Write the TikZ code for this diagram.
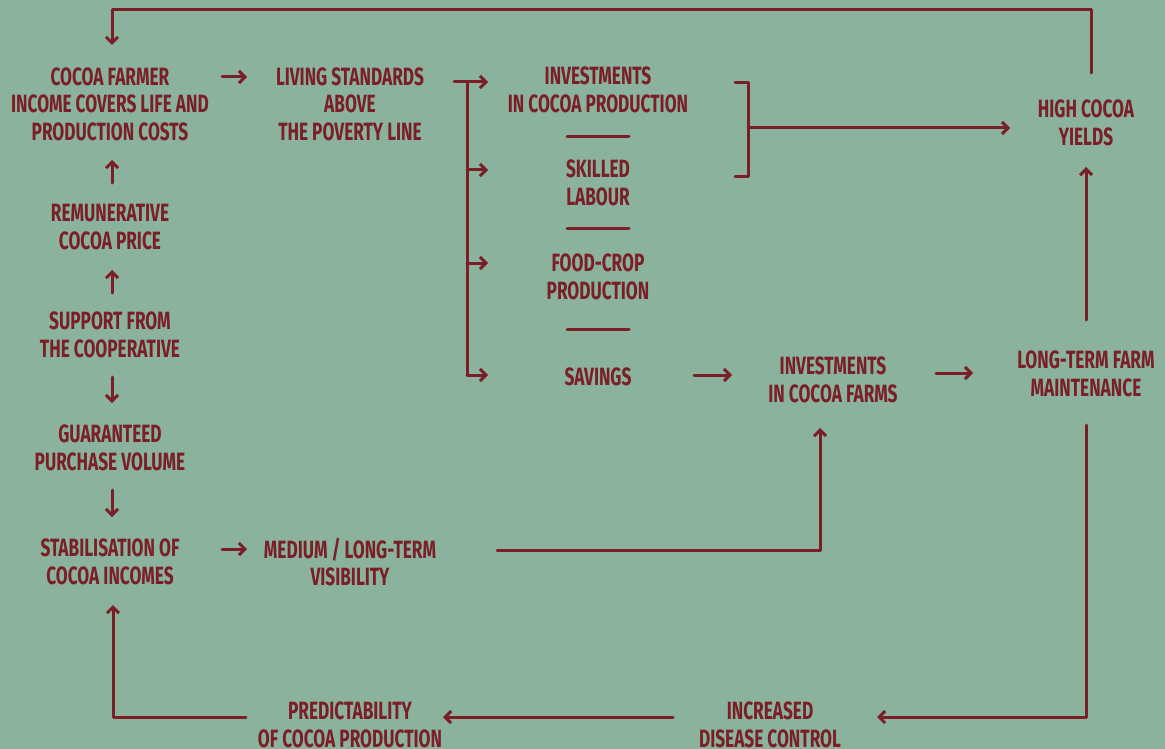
\documentclass[tikz,border=0pt]{standalone}
\usepackage{fontspec}
\newfontfamily\lab{Fira Sans}[FakeStretch=0.69]
\usetikzlibrary{arrows.meta}
\definecolor{bg}{RGB}{139,178,156}
\definecolor{wine}{RGB}{122,30,40}
\tikzset{
  lab/.style={text=wine, font=\lab\bfseries\fontsize{25}{27.5}\selectfont, align=center, inner sep=0pt},
  link/.style={draw=wine, line width=3pt, line cap=round, line join=round},
  arr/.style={link, -{Straight Barb[length=6pt,width=12pt]}},
}
\begin{document}
\begin{tikzpicture}[x=1pt,y=-1pt]
\fill[bg] (0,0) rectangle (1165,749);
\useasboundingbox (0,0) rectangle (1165,749);
% nodes
\node[lab] (farmer) at (110,104) {COCOA FARMER\\INCOME COVERS LIFE AND\\PRODUCTION COSTS};
\node[lab] (living) at (350,104) {LIVING STANDARDS\\ABOVE\\THE POVERTY LINE};
\node[lab] (invprod) at (598,90) {INVESTMENTS\\IN COCOA PRODUCTION};
\node[lab] (skilled) at (598,183) {SKILLED\\LABOUR};
\node[lab] (food) at (598,277) {FOOD-CROP\\PRODUCTION};
\node[lab] (savings) at (598,377) {SAVINGS};
\node[lab] (invfarms) at (833,380) {INVESTMENTS\\IN COCOA FARMS};
\node[lab] (longterm) at (1086,374) {LONG-TERM FARM\\MAINTENANCE};
\node[lab] (high) at (1086,123) {HIGH COCOA\\YIELDS};
\node[lab] (remun) at (110,227) {REMUNERATIVE\\COCOA PRICE};
\node[lab] (support) at (110,335) {SUPPORT FROM\\THE COOPERATIVE};
\node[lab] (guar) at (110,448) {GUARANTEED\\PURCHASE VOLUME};
\node[lab] (stab) at (110,562) {STABILISATION OF\\COCOA INCOMES};
\node[lab] (medium) at (350,562) {MEDIUM / LONG-TERM\\VISIBILITY};
\node[lab] (predict) at (350,725) {PREDICTABILITY\\OF COCOA PRODUCTION};
\node[lab] (disease) at (770,725) {INCREASED\\DISEASE CONTROL};
% separators
\foreach \y in {137,228,329} \draw[link] (567,\y) -- (629,\y);
% connector end points
\coordinate (hiT) at (1091,73);
\coordinate (topR) at (1091,10);
\coordinate (topL) at (112,10);
\coordinate (faT) at (112,45);
\coordinate (faR) at (222,77);
\coordinate (liL) at (247,77);
\coordinate (liR) at (454,82);
\coordinate (brX) at (467,82);
\coordinate (brB) at (467,375);
\coordinate (ipR) at (735,83);
\coordinate (skR) at (735,177);
\coordinate (brM) at (748,128);
\coordinate (hiL) at (1010,128);
\coordinate (svR) at (694,375);
\coordinate (ifL) at (732,375);
\coordinate (ifR) at (936,373);
\coordinate (ltL) at (973,373);
\coordinate (ltT) at (1086,320);
\coordinate (hiB) at (1086,167);
\coordinate (ltB) at (1086,425);
\coordinate (dsR) at (877,717);
\coordinate (dsL) at (673,717);
\coordinate (prR) at (443,717);
\coordinate (prL) at (246,717);
\coordinate (stB) at (113,605);
\coordinate (mdR) at (497,550);
\coordinate (ifB) at (820,428);
\coordinate (reT) at (112,183);
\coordinate (faB) at (112,160);
\coordinate (suT) at (112,293);
\coordinate (reB) at (112,270);
\coordinate (suB) at (112,377);
\coordinate (guT) at (112,403);
\coordinate (guB) at (112,490);
\coordinate (stT) at (112,517);
\coordinate (stR) at (222,549);
\coordinate (mdL) at (247,549);
% connectors
\draw[arr] (hiT) -- (topR) -- (topL) -- (faT);
\draw[arr] (faR) -- (liL);
\draw[link] (liR) -- (brX) -- (brB);
\foreach \y in {82,170,263,375} \draw[arr] (467,\y) -- (488,\y);
\draw[link] (ipR) -| (brM) |- (skR);
\draw[arr] (brM) -- (hiL);
\draw[arr] (svR) -- (ifL);
\draw[arr] (ifR) -- (ltL);
\draw[arr] (ltT) -- (hiB);
\draw[arr] (ltB) |- (dsR);
\draw[arr] (dsL) -- (prR);
\draw[arr] (prL) -| (stB);
\draw[arr] (mdR) -| (ifB);
\draw[arr] (reT) -- (faB);
\draw[arr] (suT) -- (reB);
\draw[arr] (suB) -- (guT);
\draw[arr] (guB) -- (stT);
\draw[arr] (stR) -- (mdL);
\end{tikzpicture}
\end{document}
